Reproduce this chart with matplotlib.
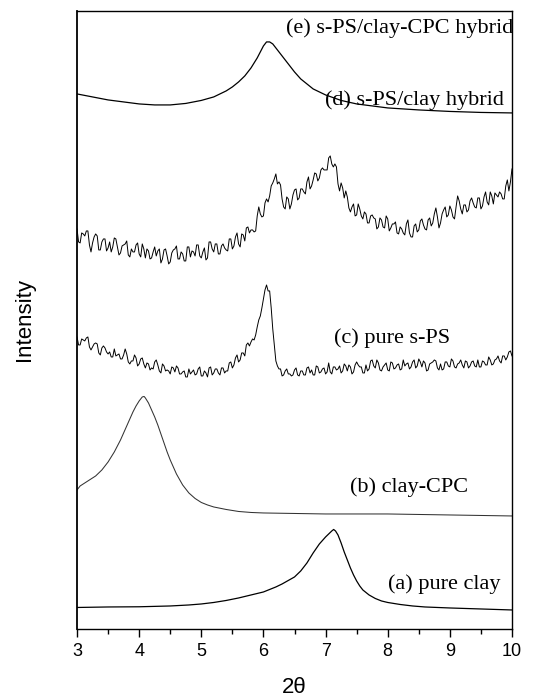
import numpy as np
import matplotlib
matplotlib.use('Agg')
import matplotlib.pyplot as plt
from matplotlib.ticker import MultipleLocator

# 2theta grid for the noisy scans (step 0.025)
tt_fine = np.round(np.arange(3.0, 10.0001, 0.025), 3)

# (a) pure clay
tt_a = [3.0, 3.5, 4.0, 4.5, 4.8, 5.0, 5.2, 5.4, 5.6, 5.8, 6.0, 6.1, 6.2, 6.3, 6.4, 6.5, 6.6,
        6.7, 6.8, 6.9, 6.95, 7.0, 7.05, 7.1, 7.13, 7.16, 7.2, 7.25, 7.3, 7.35, 7.4, 7.45,
        7.5, 7.55, 7.6, 7.7, 7.8, 7.9, 8.0, 8.2, 8.4, 8.6, 9.0, 9.5, 10.0]
int_a = [21.5, 22, 22.2, 23, 24, 25, 26.5, 28.5, 31, 34, 37, 39.5, 42, 45, 48.5, 52, 58,
         66, 76, 85, 88.5, 92, 95, 98, 99.5, 98, 94, 86, 77, 69, 61, 54,
         48, 43, 39, 34, 30.5, 28, 26.5, 24.5, 23, 22, 21, 20, 19]

# (b) clay-CPC
tt_b = [3.0, 3.05, 3.1, 3.15, 3.2, 3.3, 3.4, 3.5, 3.6, 3.7, 3.8, 3.85, 3.9, 3.95, 4.0, 4.05,
        4.08, 4.1, 4.15, 4.2, 4.25, 4.3, 4.35, 4.4, 4.45, 4.5, 4.55, 4.6, 4.7, 4.8, 4.9, 5.0,
        5.1, 5.2, 5.4, 5.6, 5.8, 6.0, 6.5, 7.0, 8.0, 9.0, 10.0]
int_b = [139, 143, 145, 147, 149, 153, 159, 167, 177, 189, 203, 210, 217, 223, 228, 232,
         232.5, 231, 226, 219, 212, 204, 195, 186, 177, 169, 162, 155, 144, 136, 130.5, 126.5,
         124, 122, 119.5, 117.5, 116.5, 116, 115.5, 115, 115, 114, 113]

# (c) pure s-PS
int_c = [292, 284, 284, 290, 289, 288, 291, 292, 282, 279, 282, 285, 286, 285, 276, 274, 281, 283, 281, 277,
         275, 277, 272, 272, 280, 273, 274, 275, 270, 270, 274, 280, 275, 267, 265, 268, 268, 274, 271, 263,
         265, 270, 271, 265, 261, 266, 265, 259, 261, 260, 267, 269, 264, 258, 256, 265, 263, 258, 259, 258,
         255, 262, 261, 257, 263, 261, 255, 255, 257, 258, 252, 252, 260, 255, 257, 259, 254, 255, 260, 262,
         253, 253, 258, 256, 252, 261, 262, 254, 256, 260, 260, 256, 254, 261, 261, 256, 258, 258, 266, 267,
         261, 264, 271, 274, 267, 269, 276, 276, 273, 284, 286, 283, 287, 290, 289, 294, 302, 309, 313, 321,
         330, 339, 344, 338, 338, 321, 300, 284, 268, 263, 260, 260, 253, 254, 258, 260, 255, 255, 253, 254,
         259, 261, 254, 253, 258, 258, 254, 254, 261, 262, 256, 259, 254, 254, 263, 262, 256, 257, 260, 261,
         255, 257, 266, 257, 255, 262, 262, 259, 260, 263, 256, 258, 265, 263, 258, 264, 262, 255, 257, 264,
         267, 264, 262, 262, 256, 256, 264, 258, 260, 268, 269, 263, 261, 269, 266, 259, 258, 262, 264, 266,
         259, 258, 267, 266, 260, 261, 264, 265, 259, 260, 269, 263, 265, 266, 260, 262, 267, 269, 261, 263,
         270, 267, 262, 268, 266, 258, 259, 265, 266, 267, 269, 268, 261, 259, 265, 259, 260, 267, 267, 263,
         262, 270, 268, 262, 261, 265, 266, 269, 264, 261, 268, 267, 261, 263, 267, 268, 263, 262, 269, 262,
         262, 268, 267, 264, 264, 272, 269, 264, 265, 269, 270, 273, 268, 266, 273, 273, 269, 272, 277, 278,
         273]

# (d) s-PS/clay hybrid
int_d = [400, 387, 386, 396, 395, 393, 398, 398, 384, 377, 386, 392, 395, 393, 379, 379, 387, 390, 390, 378,
         381, 387, 377, 382, 391, 390, 382, 374, 376, 383, 384, 385, 388, 374, 372, 380, 377, 377, 384, 386,
         375, 372, 385, 380, 371, 380, 378, 370, 371, 377, 382, 373, 378, 380, 366, 370, 379, 380, 373, 365,
         367, 376, 379, 380, 383, 370, 370, 377, 375, 368, 368, 382, 382, 372, 378, 377, 373, 384, 384, 373,
         371, 377, 381, 369, 371, 387, 387, 380, 377, 385, 385, 375, 375, 383, 385, 381, 379, 378, 390, 390,
         380, 383, 392, 396, 385, 382, 395, 394, 388, 401, 402, 396, 399, 399, 397, 398, 413, 422, 415, 412,
         413, 426, 430, 427, 433, 443, 446, 450, 455, 445, 447, 444, 430, 422, 420, 432, 430, 420, 425, 434,
         439, 440, 429, 431, 440, 440, 437, 435, 447, 452, 440, 443, 449, 456, 455, 448, 451, 459, 461, 459,
         459, 459, 471, 473, 465, 462, 465, 462, 445, 438, 446, 441, 431, 438, 432, 421, 417, 422, 425, 413,
         414, 425, 420, 413, 410, 417, 415, 406, 406, 413, 414, 411, 410, 400, 402, 411, 409, 402, 401, 413,
         410, 398, 401, 405, 405, 407, 396, 395, 402, 400, 396, 394, 405, 409, 396, 392, 392, 403, 405, 397,
         399, 408, 410, 404, 400, 399, 409, 411, 403, 406, 415, 421, 412, 401, 406, 415, 419, 422, 412, 414,
         423, 419, 412, 410, 422, 433, 428, 420, 415, 424, 424, 417, 419, 428, 431, 426, 422, 421, 431, 431,
         420, 423, 432, 437, 427, 424, 437, 433, 425, 436, 434, 432, 437, 435, 430, 430, 443, 449, 438, 447,
         460]

# (e) s-PS/clay-CPC hybrid
tt_e = [3.0, 3.25, 3.5, 3.75, 4.0, 4.25, 4.5, 4.75, 5.0, 5.2, 5.4, 5.5, 5.6, 5.7, 5.8, 5.9,
        5.95, 6.0, 6.05, 6.1, 6.15, 6.2, 6.3, 6.4, 6.5, 6.6, 6.7, 6.8, 7.0, 7.25, 7.5, 7.75,
        8.0, 8.5, 9.0, 9.5, 10.0]
int_e = [535, 532, 529, 527, 525, 524, 524, 525.5, 528.5, 532, 538, 542, 547, 553, 561, 571,
         577, 583, 587, 587, 585, 581, 573, 565, 557, 550, 545, 540, 534, 528.5, 525, 523,
         521, 519, 517.5, 516.5, 516]

labels = ['(a) pure clay', '(b) clay-CPC', '(c) pure s-PS', '(d) s-PS/clay hybrid',
          '(e) s-PS/clay-CPC hybrid']

fig = plt.figure(figsize=(5.47, 6.96), dpi=100)
ax = fig.add_axes([0.1408, 0.0963, 0.7952, 0.888])

ax.plot(tt_a, int_a, color='black', lw=0.9)
ax.plot(tt_b, int_b, color='#333333', lw=0.75)
ax.plot(tt_fine, int_c, color='black', lw=0.7)
ax.plot(tt_fine, int_d, color='black', lw=0.7)
ax.plot(tt_e, int_e, color='black', lw=0.9)

serif = ['Liberation Serif', 'DejaVu Serif']
fs = 16
ax.text(10.02, 601, labels[4], ha='right', va='center', fontsize=fs, family=serif)
ax.text(6.99, 529, labels[3], ha='left', va='center', fontsize=fs, family=serif)
ax.text(7.13, 291, labels[2], ha='left', va='center', fontsize=fs, family=serif)
ax.text(7.40, 142, labels[1], ha='left', va='center', fontsize=fs, family=serif)
ax.text(8.00, 45, labels[0], ha='left', va='center', fontsize=fs, family=serif)

ax.set_xlim(3, 10)
ax.set_ylim(0, 618)
ax.xaxis.set_major_locator(MultipleLocator(1))
ax.xaxis.set_minor_locator(MultipleLocator(0.5))
ax.tick_params(axis='x', which='major', direction='out', length=6, width=1,
               labelsize=13, pad=4)
ax.tick_params(axis='x', which='minor', direction='out', length=3.5, width=1)
ax.set_yticks([])
for lab in ax.get_xticklabels():
    lab.set_family('Liberation Sans')
for sp in ax.spines.values():
    sp.set_linewidth(1.0)
ax.spines['left'].set_linewidth(1.3)

ax.set_xlabel('2θ', fontsize=16, family='Liberation Sans', labelpad=12)
ax.set_ylabel('Intensity', fontsize=16, family='Liberation Sans', labelpad=30)

fig.savefig('out.png', dpi=100)
